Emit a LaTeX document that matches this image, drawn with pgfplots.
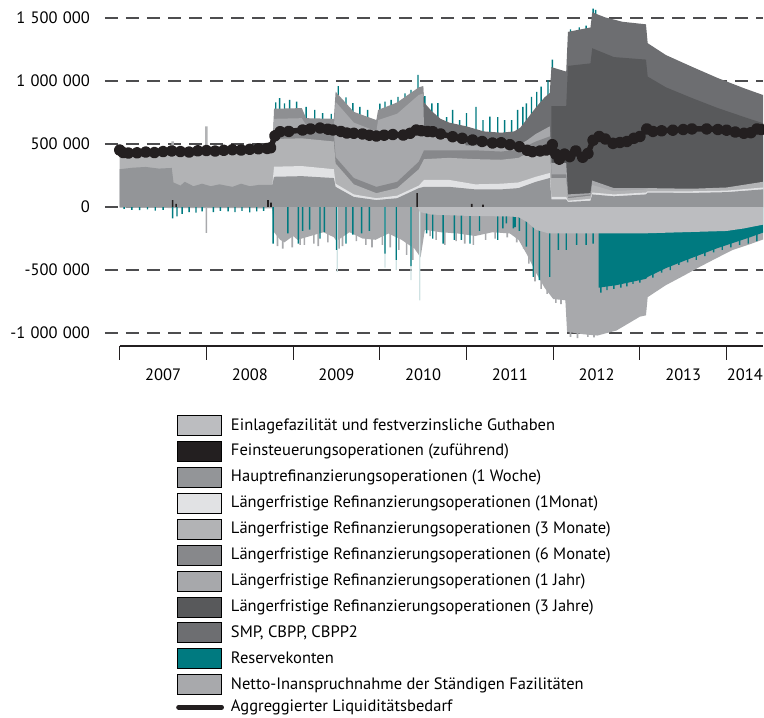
\documentclass[border=0pt]{standalone}
\usepackage{pgfplots}
\pgfplotsset{compat=1.18}
\usepackage{fontspec}
\setmainfont{PT Sans}
\definecolor{cMRO}{HTML}{939598}
\definecolor{cMa}{HTML}{E1E2E4}
\definecolor{cMc}{HTML}{B2B3B5}
\definecolor{cMf}{HTML}{87888B}
\definecolor{cYa}{HTML}{A7A8AB}
\definecolor{cYc}{HTML}{58595B}
\definecolor{cSMP}{HTML}{6D6E71}
\definecolor{cEin}{HTML}{BCBDC0}
\definecolor{cFein}{HTML}{231F20}
\definecolor{cRes}{HTML}{007A80}
\definecolor{cNet}{HTML}{A8A9AC}
\definecolor{cExt}{HTML}{8E8F92}
\definecolor{cPale}{HTML}{CFE2E3}
\definecolor{cGrid}{HTML}{4D4D4F}
\newcommand{\gs}{\hspace{0.32em}}
\newcommand{\fs}{\fontsize{16.5pt}{19pt}\selectfont}
\pgfplotsset{
  sq/.style={legend image code/.code={\fill[fill=#1] (0pt,-10pt) rectangle (44pt,10pt);}},
  spike/.style={ybar, bar width=#1, bar shift=0pt, draw=none, forget plot},
  area/.style={fill=#1, draw=none, forget plot},
}
\begin{document}
\fs
\begin{tikzpicture}[x=1pt,y=1pt]
\path[use as bounding box] (0,0) rectangle (764,-718);
\begin{axis}[
  at={(105pt,-346pt)}, anchor=south west,
  scale only axis, width=658pt, height=340.6pt,
  xmin=2006.83, xmax=2014.42, ymin=-1103, ymax=1600,
  clip mode=individual,
  axis line style={draw=none},
  tick style={draw=none},
  major tick length=0pt,
  xtick=\empty,
  ytick={-1000,-500,0,500,1000,1500},
  yticklabels={\mbox{-1\gs000\gs000},\mbox{-500\gs000},\mbox{0},\mbox{500\gs000},\mbox{1\gs000\gs000},\mbox{1\gs500\gs000}},
  yticklabel style={anchor=east, inner sep=0pt, xshift=-15pt, font=\fs},
  ymajorgrids,
  grid style={cGrid, line width=1.3pt, dash pattern=on 13pt off 8pt},
  legend style={at={(0.1079,-0.2026)}, anchor=north west, draw=none, fill=none,
    inner sep=0pt, row sep=5.5pt, column sep=7pt,
    nodes={inner sep=0pt, anchor=west}, font=\fs},
  legend cell align=left,
]
% positive teal spikes (behind the stack)
\addplot[spike=1.4pt, fill=cRes] coordinates {
(2007.64,470) (2007.70,455) (2007.92,450) (2008.45,455)
(2008.80,830) (2008.845,865) (2008.90,823) (2008.96,850) (2009.04,836) (2009.15,794)
(2009.25,770) (2009.34,746) (2009.44,740) (2009.52,960) (2009.61,870) (2009.69,825)
(2009.77,794) (2009.86,770) (2010.00,820) (2010.06,836) (2010.13,850) (2010.21,875)
(2010.29,902) (2010.36,929) (2010.44,1048) (2010.52,880) (2010.60,823) (2010.67,825)
(2010.77,714) (2010.84,770) (2010.92,690) (2011.00,746) (2011.11,794) (2011.19,690)
(2011.27,717) (2011.36,714) (2011.44,690) (2011.52,690) (2011.59,770) (2011.65,794)
(2011.69,823) (2011.75,875) (2011.81,913) (2011.86,955) (2011.94,1008) (2011.99,1170)
(2012.20,1410) (2012.30,1425) (2012.38,1440) (2012.46,1575) (2012.49,1565)};
\addplot[spike=2.5pt, fill=cMc] coordinates {(2007.61,520) (2008.00,640)};
% positive stack, top layers first
\addplot[area=cExt] coordinates {
(2008.76,445) (2008.78,780) (2009.10,785) (2009.15,705) (2009.47,700) (2009.49,915)
(2009.70,755) (2009.96,690) (2009.98,770) (2010.20,830) (2010.45,950) (2010.50,960)} \closedcycle;
\addplot[area=cSMP] coordinates {
(2010.50,960) (2010.51,830) (2010.60,760) (2010.70,700) (2010.80,670) (2011.00,640)
(2011.20,600) (2011.40,590) (2011.55,600) (2011.62,630) (2011.70,700) (2011.80,790)
(2011.90,870) (2011.96,905) (2011.98,1110) (2012.15,1075) (2012.17,1390) (2012.43,1425)
(2012.45,1545) (2012.60,1505) (2012.80,1470) (2013.07,1450) (2013.09,1300) (2013.30,1206)
(2013.60,1113) (2013.90,1023) (2014.20,943) (2014.42,889)} \closedcycle;
\addplot[area=cYc] coordinates {
(2011.98,800) (2012.15,800) (2012.17,1120) (2012.43,1140) (2012.45,1260) (2012.70,1190)
(2013.07,1170) (2013.09,1035) (2013.30,950) (2013.60,865) (2013.90,785) (2014.20,715)
(2014.42,665)} \closedcycle;
\addplot[area=cYa] coordinates {
(2008.76,445) (2008.78,700) (2009.10,705) (2009.15,650) (2009.47,640) (2009.49,835)
(2009.70,670) (2009.96,600) (2009.98,690) (2010.20,740) (2010.45,890) (2010.50,900)
(2010.51,620) (2010.80,560) (2010.97,545) (2010.99,490) (2011.10,490) (2011.40,480)
(2011.60,490) (2011.70,530) (2011.80,580) (2011.96,640) (2011.98,350) (2012.15,350)
(2012.17,100) (2012.43,110) (2012.45,210) (2012.70,150) (2013.07,150) (2013.09,150)} \closedcycle;
\addplot[area=cMf] coordinates {
(2008.76,445) (2008.78,590) (2009.10,600) (2009.47,590) (2009.49,395) (2009.70,230)
(2009.96,160) (2010.20,200) (2010.45,360) (2010.51,450) (2010.80,450) (2011.10,450)
(2011.40,440) (2011.60,455) (2011.80,520) (2011.96,560) (2011.98,260) (2012.15,260)
(2012.17,80) (2012.43,100) (2012.45,175)} \closedcycle;
\addplot[area=cMc] coordinates {
(2007.00,420) (2007.30,425) (2007.60,430) (2007.80,425) (2008.00,430) (2008.30,435)
(2008.60,440) (2008.76,445) (2008.78,540) (2009.10,545) (2009.47,520) (2009.49,345)
(2009.70,180) (2009.96,110) (2010.20,150) (2010.45,300) (2010.51,380) (2010.80,390)
(2011.10,380) (2011.40,375) (2011.60,390) (2011.80,460) (2011.96,500) (2011.98,230)
(2012.15,230) (2012.17,70) (2012.43,90) (2012.45,175) (2012.70,125) (2013.07,140)
(2013.09,150) (2013.60,145) (2014.00,155) (2014.42,200)} \closedcycle;
\addplot[area=cMa] coordinates {
(2008.76,175) (2008.78,320) (2009.10,325) (2009.47,300) (2009.49,185) (2009.70,100)
(2009.96,70) (2010.20,90) (2010.45,170) (2010.51,215) (2010.80,215) (2011.10,180)
(2011.40,185) (2011.60,195) (2011.80,240) (2011.96,270) (2011.98,80) (2012.15,80)
(2012.17,50) (2012.43,65) (2012.45,115) (2012.70,100) (2013.07,115) (2013.09,125)
(2013.60,125) (2014.00,130) (2014.42,155)} \closedcycle;
\addplot[area=cMRO] coordinates {
(2007.00,300) (2007.15,312) (2007.30,318) (2007.45,305) (2007.60,310) (2007.62,195)
(2007.70,170) (2007.75,200) (2007.85,165) (2007.95,185) (2008.05,165) (2008.15,180)
(2008.30,160) (2008.40,185) (2008.50,165) (2008.60,175) (2008.76,175) (2008.78,240)
(2009.10,245) (2009.47,230) (2009.49,160) (2009.70,80) (2009.96,55) (2010.20,70)
(2010.45,150) (2010.51,160) (2010.80,160) (2011.10,140) (2011.40,140) (2011.60,150)
(2011.80,200) (2011.96,230) (2011.98,60) (2012.15,60) (2012.17,40) (2012.43,50)
(2012.45,100) (2012.70,85) (2013.07,100) (2013.09,115) (2013.60,112) (2014.00,118)
(2014.42,140)} \closedcycle;
% fine tuning operations
\addplot[spike=1.6pt, fill=cFein] coordinates {
(2007.61,55) (2007.65,25) (2008.71,55) (2008.745,35) (2010.43,110) (2011.06,25) (2011.19,20)};
% negative side: net recourse (total)
\addplot[area=cNet] coordinates {
(2007.00,-5) (2007.60,-8) (2008.70,-10) (2008.76,-10) (2008.78,-200) (2008.85,-260)
(2008.90,-280) (2009.00,-230) (2009.05,-260) (2009.20,-230) (2009.35,-200) (2009.47,-240)
(2009.50,-270) (2009.65,-200) (2009.80,-250) (2009.95,-260) (2010.10,-210) (2010.25,-260)
(2010.40,-330) (2010.47,-400) (2010.52,-180) (2010.70,-200) (2010.90,-210) (2011.10,-230)
(2011.30,-200) (2011.50,-210) (2011.60,-260) (2011.70,-380) (2011.80,-520) (2011.90,-640)
(2012.00,-730) (2012.14,-740) (2012.16,-990) (2012.35,-1010) (2012.51,-1020) (2012.73,-980)
(2013.00,-870) (2013.07,-860) (2013.09,-715) (2013.30,-620) (2013.50,-547) (2013.69,-475)
(2013.90,-400) (2014.07,-341) (2014.25,-300) (2014.42,-258)} \closedcycle;
\addplot[spike=1.6pt, fill=cNet] coordinates {
(2008.00,-205) (2008.82,-310) (2008.88,-330) (2008.99,-320) (2009.08,-300) (2009.13,-300)
(2009.24,-290) (2009.29,-310) (2009.40,-280) (2009.53,-330) (2009.57,-310) (2009.73,-270)
(2009.84,-300) (2009.91,-320) (2010.03,-300) (2010.12,-320) (2010.22,-340) (2010.31,-380)
(2010.38,-420) (2010.58,-230) (2010.65,-260) (2010.75,-300) (2010.88,-270) (2010.98,-290)
(2011.08,-300) (2011.22,-260) (2011.33,-250) (2011.47,-240) (2011.58,-280) (2011.66,-330)
(2011.72,-450) (2011.79,-590) (2011.86,-650) (2011.93,-690) (2012.03,-760) (2012.09,-770)
(2012.20,-1030) (2012.28,-1040) (2012.40,-1030) (2012.47,-1035)};
\addplot[spike=1.2pt, fill=cPale] coordinates {
(2009.51,-515) (2010.06,-480) (2010.19,-500) (2010.36,-580) (2010.46,-740)};
\addplot[spike=1.4pt, fill=cRes] coordinates {
(2007.05,-15) (2007.14,-22) (2007.23,-25) (2007.32,-18) (2007.41,-28) (2007.50,-22)
(2007.61,-90) (2007.66,-75) (2007.72,-55) (2007.80,-40) (2007.88,-45) (2007.95,-35)
(2008.08,-40) (2008.16,-30) (2008.25,-35) (2008.33,-40) (2008.41,-30) (2008.50,-42)
(2008.58,-35) (2008.66,-30)
(2008.77,-290) (2008.94,-210) (2009.06,-290) (2009.11,-190) (2009.19,-180) (2009.31,-250)
(2009.36,-200) (2009.50,-340) (2009.61,-290) (2009.69,-220) (2009.79,-210) (2009.88,-190)
(2010.06,-370) (2010.19,-420) (2010.36,-470) (2010.54,-210) (2010.61,-250) (2010.73,-290)
(2010.86,-260) (2010.94,-260) (2011.04,-290) (2011.15,-190) (2011.36,-260) (2011.42,-170)
(2011.46,-130) (2011.54,-170) (2011.56,-160) (2011.61,-190) (2011.69,-315) (2011.77,-555)
(2011.84,-580) (2011.96,-555) (2012.06,-340) (2012.15,-340) (2012.27,-300) (2012.38,-300)
(2012.46,-290)
(2012.55,-680) (2012.62,-660) (2012.70,-650) (2012.78,-640) (2012.85,-630) (2012.92,-610)
(2013.00,-600) (2013.15,-560) (2013.25,-520) (2013.35,-500) (2013.45,-460) (2013.55,-440)
(2013.65,-420) (2013.75,-390) (2013.85,-360) (2013.95,-340) (2014.05,-320) (2014.15,-300)
(2014.25,-290) (2014.35,-270)};
% reserve accounts band
\addplot[area=cRes] coordinates {
(2012.525,-640) (2012.73,-620) (2013.00,-580) (2013.07,-570) (2013.09,-555) (2013.30,-485)
(2013.50,-430) (2013.69,-380) (2013.90,-325) (2014.07,-286) (2014.25,-245) (2014.42,-203)} \closedcycle;
% deposit facility and fixed-term deposits
\addplot[area=cEin] coordinates {
(2010.44,0) (2010.46,-40) (2010.60,-60) (2011.00,-70) (2011.50,-75) (2011.60,-80)
(2011.70,-120) (2011.80,-180) (2011.95,-210) (2012.50,-210) (2013.00,-210) (2013.50,-200)
(2014.00,-190) (2014.20,-170) (2014.42,-140)} \closedcycle;
% aggregate liquidity need
\addplot[cFein, line width=5.5pt, line join=round, mark=*, mark size=3.1pt, forget plot] coordinates {
(2007.00,452) (2007.04,432) (2007.10,428) (2007.20,430) (2007.30,436) (2007.40,432)
(2007.50,440) (2007.60,445) (2007.70,440) (2007.80,436) (2007.90,446) (2008.00,448)
(2008.10,444) (2008.20,450) (2008.30,455) (2008.40,452) (2008.50,458) (2008.60,462)
(2008.70,465) (2008.74,470) (2008.79,565) (2008.85,598) (2008.95,600) (2009.11,611)
(2009.20,620) (2009.31,627) (2009.40,618) (2009.46,611) (2009.55,600) (2009.62,587)
(2009.70,585) (2009.80,580) (2009.88,570) (2009.96,563) (2010.05,570) (2010.15,575)
(2010.27,571) (2010.35,585) (2010.42,611) (2010.48,605) (2010.55,600) (2010.61,598)
(2010.70,580) (2010.84,558) (2010.95,545) (2011.07,532) (2011.18,520) (2011.30,508)
(2011.40,510) (2011.50,495) (2011.61,479) (2011.70,450) (2011.76,439) (2011.85,445)
(2011.92,452) (2011.99,495) (2012.03,420) (2012.07,380) (2012.13,420) (2012.19,400)
(2012.26,445) (2012.34,395) (2012.40,425) (2012.46,530) (2012.53,560) (2012.60,540)
(2012.69,505) (2012.77,512) (2012.85,520) (2012.93,545) (2013.00,560) (2013.08,620)
(2013.15,600) (2013.25,605) (2013.38,610) (2013.50,615) (2013.60,620) (2013.77,620)
(2013.90,615) (2014.00,610) (2014.10,595) (2014.20,585) (2014.28,590) (2014.35,620)
(2014.40,615)};
% x axis
\draw[cFein, line width=1.2pt] (axis cs:2007,-1103) -- (axis cs:2014.42,-1103);
\pgfplotsinvokeforeach{2007,2008,2009,2010,2011,2012,2013,2014}{
  \draw[cFein, line width=1.2pt] (axis cs:#1,-1103) -- ++(0pt,-14pt);}
\pgfplotsinvokeforeach{2007,2008,2009,2010,2011,2012,2013}{
  \node[inner sep=0pt] at ([yshift=-29pt]axis cs:#1.5,-1103) {#1};}
\node[inner sep=0pt] at ([yshift=-29pt]axis cs:2014.21,-1103) {2014};
% legend
\addlegendimage{sq=cEin}\addlegendentry{Einlagefazilität und festverzinsliche Guthaben}
\addlegendimage{sq=cFein}\addlegendentry{Feinsteuerungsoperationen (zuführend)}
\addlegendimage{sq=cMRO}\addlegendentry{Hauptrefinanzierungsoperationen (1 Woche)}
\addlegendimage{sq=cMa}\addlegendentry{Längerfristige Refinanzierungsoperationen (1Monat)}
\addlegendimage{sq=cMc}\addlegendentry{Längerfristige Refinanzierungsoperationen (3 Monate)}
\addlegendimage{sq=cMf}\addlegendentry{Längerfristige Refinanzierungsoperationen (6 Monate)}
\addlegendimage{sq=cYa}\addlegendentry{Längerfristige Refinanzierungsoperationen (1 Jahr)}
\addlegendimage{sq=cYc}\addlegendentry{Längerfristige Refinanzierungsoperationen (3 Jahre)}
\addlegendimage{sq=cSMP}\addlegendentry{SMP, CBPP, CBPP2}
\addlegendimage{sq=cRes}\addlegendentry{Reservekonten}
\addlegendimage{sq=cNet}\addlegendentry{Netto-Inanspruchnahme der Ständigen Fazilitäten}
\addlegendimage{legend image code/.code={\draw[cFein, line width=4.8pt, line cap=round] (1pt,0pt) -- (44pt,0pt);}}
\addlegendentry{Aggreggierter Liquiditätsbedarf}
\end{axis}
\end{tikzpicture}
\end{document}
